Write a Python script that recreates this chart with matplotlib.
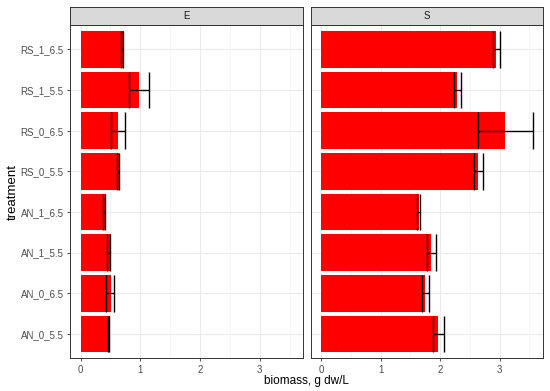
import matplotlib
matplotlib.use("Agg")
import matplotlib.pyplot as plt
import numpy as np

plt.rcParams['font.family'] = ['Liberation Sans', 'DejaVu Sans']

treatments = ["AN_0_5.5", "AN_0_6.5", "AN_1_5.5", "AN_1_6.5",
              "RS_0_5.5", "RS_0_6.5", "RS_1_5.5", "RS_1_6.5"]
panels = ["E", "S"]

E_mean = [0.50, 0.51, 0.505, 0.428, 0.65, 0.622, 0.983, 0.728]
E_low = [0.461, 0.422, 0.439, 0.372, 0.606, 0.511, 0.817, 0.678]
E_high = [0.483, 0.561, 0.494, 0.406, 0.64, 0.739, 1.144, 0.717]

S_mean = [1.97, 1.748, 1.848, 1.648, 2.644, 3.095, 2.287, 2.945]
S_low = [1.877, 1.686, 1.776, 1.609, 2.56, 2.638, 2.237, 2.895]
S_high = [2.065, 1.81, 1.927, 1.66, 2.72, 3.556, 2.354, 3.0]

data = {"E": (E_mean, E_low, E_high), "S": (S_mean, S_low, S_high)}

W, H = 550, 391
fig = plt.figure(figsize=(W / 100, H / 100), dpi=100)

panel_x = [(70, 303.5), (310.7, 543.3)]
ptop, pbot = 25, 358.3
strip_top = 7

allmax = max(max(E_high), max(S_high), max(E_mean), max(S_mean))
pad = 0.05 * allmax
xlim = (-pad, allmax + pad)
y = np.arange(len(treatments))

border = "#333333"
for i, (name, (x0, x1)) in enumerate(zip(panels, panel_x)):
    ax = fig.add_axes([x0 / W, 1 - pbot / H, (x1 - x0) / W, (pbot - ptop) / H])
    mean, lo, hi = data[name]
    ax.set_xlim(*xlim)
    ax.set_ylim(-0.6, len(treatments) - 0.4)
    ax.set_xticks([0, 1, 2, 3])
    ax.set_xticks([0.5, 1.5, 2.5, 3.5], minor=True)
    ax.set_yticks(y)
    ax.grid(True, which='major', color='#EBEBEB', linewidth=0.8)
    ax.grid(True, which='minor', axis='x', color='#F2F2F2', linewidth=0.5)
    ax.set_axisbelow(True)
    ax.barh(y, mean, height=0.9, color='#FF0000', zorder=2)
    lo = np.array(lo); hi = np.array(hi)
    ax.hlines(y, lo, hi, color='black', linewidth=1.0, zorder=3)
    ax.vlines(lo, y - 0.45, y + 0.45, color='black', linewidth=1.0, zorder=3)
    ax.vlines(hi, y - 0.45, y + 0.45, color='black', linewidth=1.0, zorder=3)
    for s in ax.spines.values():
        s.set_color(border)
        s.set_linewidth(0.7)
        s.set_zorder(5)
    ax.tick_params(axis='both', which='major', length=2.5, color=border,
                   labelsize=7, labelcolor='#4D4D4D', width=0.6, pad=2)
    ax.tick_params(axis='both', which='minor', length=0)
    if i == 0:
        ax.set_yticklabels(treatments)
    else:
        ax.tick_params(axis='y', length=0, labelleft=False)
    # strip
    sax = fig.add_axes([x0 / W, 1 - ptop / H, (x1 - x0) / W, (ptop - strip_top) / H])
    sax.set_facecolor('#D9D9D9')
    sax.set_xticks([]); sax.set_yticks([])
    for s in sax.spines.values():
        s.set_color(border)
        s.set_linewidth(0.7)
    sax.text(0.5, 0.5, name, ha='center', va='center', fontsize=7, color='#1A1A1A',
             transform=sax.transAxes)

fig.text((70 + 543.3) / 2 / W, 1 - 381 / H, "biomass, g dw/L", ha='center', va='center', fontsize=8.5)
fig.text(12.5 / W, 1 - (ptop + pbot) / 2 / H, "treatment", ha='center', va='center',
         rotation=90, fontsize=9.5)

fig.savefig("out.png", dpi=100)
